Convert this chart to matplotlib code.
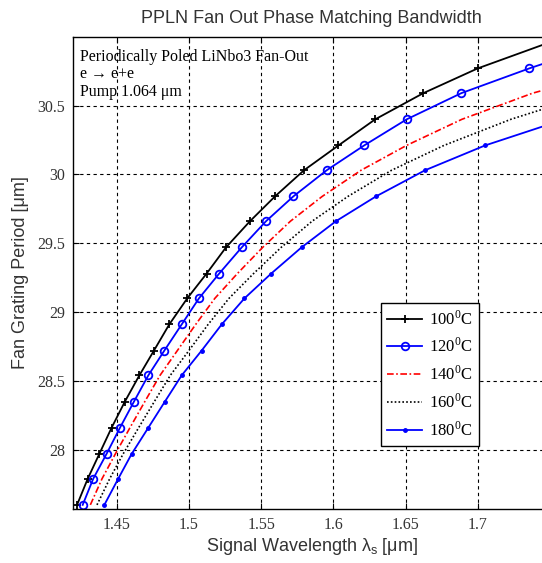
import matplotlib
matplotlib.use("Agg")
from matplotlib import pyplot as plt

plt.rcParams["mathtext.fontset"] = "custom"
plt.rcParams["mathtext.rm"] = "Liberation Serif"
plt.rcParams["mathtext.it"] = "Liberation Sans"
plt.rcParams["mathtext.bf"] = "Liberation Serif:bold"

# grating period levels (shared sampling of all curves)
period = [27.60, 27.79, 27.97, 28.16, 28.35, 28.54, 28.72, 28.91, 29.10, 29.28,
          29.47, 29.66, 29.84, 30.03, 30.21, 30.40, 30.59, 30.77, 30.96]

# signal wavelength (um) at each period level, per crystal temperature
wl_100 = [1.4226, 1.4300, 1.4380, 1.4465, 1.4557, 1.4657, 1.4758, 1.4864, 1.4989, 1.5123,
          1.5257, 1.5423, 1.5596, 1.5797, 1.6035, 1.6290, 1.6623, 1.7000, 1.7500]
wl_120 = [1.4265, 1.4338, 1.4430, 1.4523, 1.4620, 1.4719, 1.4830, 1.4950, 1.5070, 1.5210,
          1.5366, 1.5534, 1.5723, 1.5954, 1.6213, 1.6508, 1.6886, 1.7357, 1.7900]
wl_140 = [1.4318, 1.4399, 1.4491, 1.4592, 1.4695, 1.4800, 1.4920, 1.5047, 1.5180, 1.5336,
          1.5511, 1.5703, 1.5923, 1.6192, 1.6506, 1.6890, 1.7380, 1.8000]
wl_160 = [1.4364, 1.4452, 1.4545, 1.4652, 1.4761, 1.4871, 1.5000, 1.5133, 1.5278, 1.5448,
          1.5639, 1.5853, 1.6101, 1.6403, 1.6765, 1.7229, 1.7800]
wl_180 = [1.4415, 1.4511, 1.4604, 1.4719, 1.4834, 1.4950, 1.5088, 1.5227, 1.5385, 1.5570,
          1.5780, 1.6018, 1.6295, 1.6635, 1.7050, 1.7600]

labels = ["100$^0$C", "120$^0$C", "140$^0$C", "160$^0$C", "180$^0$C"]
xticks = [1.45, 1.5, 1.55, 1.6, 1.65, 1.7]
yticks = [28, 28.5, 29, 29.5, 30, 30.5]

fig = plt.figure(figsize=(5.42, 5.63), dpi=100)
W, H = 542.0, 563.0
ax = fig.add_axes([73.3 / W, (H - 509) / H, (550 - 73.3) / W, (509 - 36.7) / H])

ax.plot(wl_100, period[:len(wl_100)], color="black", lw=1.3, marker="+", ms=6, mew=1.3, label=labels[0])
ax.plot(wl_120, period[:len(wl_120)], color="blue", lw=1.3, marker="o", ms=5.5, mew=1.3,
        mfc="none", label=labels[1])
ax.plot(wl_140, period[:len(wl_140)], color="red", lw=1.2, ls=(0, (4, 1.5, 1, 1.5)), label=labels[2])
ax.plot(wl_160, period[:len(wl_160)], color="black", lw=1.2, ls=(0, (1, 1.3)), label=labels[3])
ax.plot(wl_180, period[:len(wl_180)], color="blue", lw=1.3, marker=".", ms=5, label=labels[4])

ax.set_xlim(1.42, 1.75)
ax.set_ylim(27.57, 31.0)
ax.set_xticks(xticks)
ax.set_xticklabels([f"{t:g}" for t in xticks], family="Liberation Serif", fontsize=11.5, color="#333333")
ax.set_yticks(yticks)
ax.set_yticklabels([f"{t:g}" for t in yticks], family="Liberation Serif", fontsize=11.5, color="#333333")
ax.tick_params(direction="in", length=4, width=0.8, top=True, right=True, pad=6)
ax.grid(True, color="black", ls=(0, (3, 3)), lw=0.8)
for s in ax.spines.values():
    s.set_linewidth(1.0)

ax.set_title("PPLN Fan Out Phase Matching Bandwidth", family="Liberation Sans", fontsize=13,
             color="#333333", pad=10)
ax.set_xlabel(r"Signal Wavelength $\lambda_s$ [μm]", family="Liberation Sans", fontsize=13,
              color="#333333", labelpad=2)
ax.set_ylabel("Fan Grating Period [μm]", family="Liberation Sans", fontsize=13,
              color="#333333", labelpad=6)

ax.text(0.015, 0.975, "Periodically Poled LiNbo3 Fan-Out\ne → e+e\nPump 1.064 μm",
        transform=ax.transAxes, va="top", ha="left", family="Liberation Serif",
        fontsize=11.5, linespacing=1.15)

leg = ax.legend(loc="upper left", bbox_to_anchor=(0.645, 0.436), fancybox=False,
                framealpha=1, edgecolor="black", prop={"family": "Liberation Serif", "size": 12},
                handlelength=2.1, borderpad=0.4, labelspacing=0.55, handletextpad=0.4,
                borderaxespad=0)
leg.get_frame().set_linewidth(1.0)

fig.savefig("out.png", dpi=100)
